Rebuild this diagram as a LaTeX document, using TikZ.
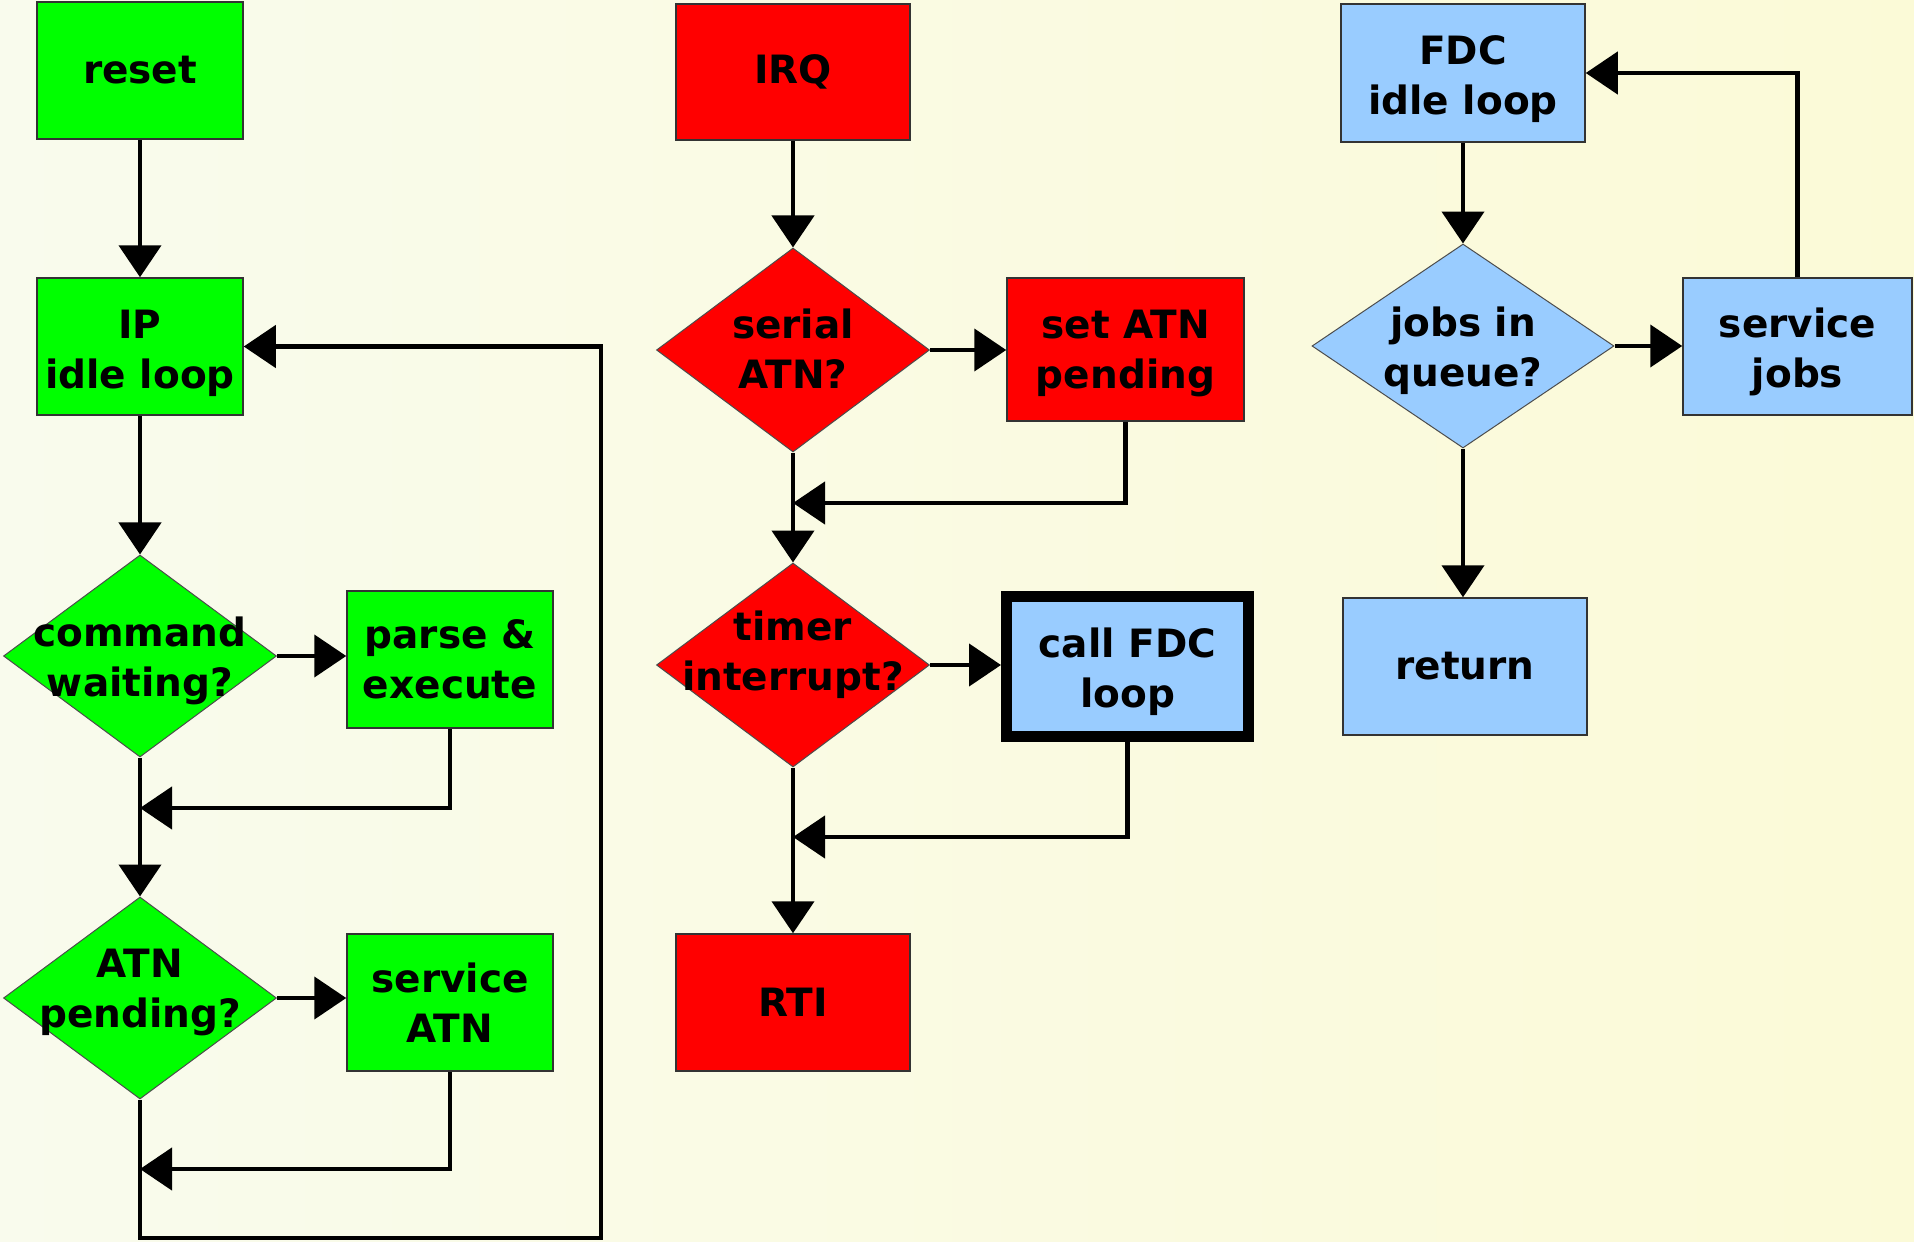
\documentclass[tikz,border=0pt]{standalone}
\usepackage{fontspec}
\setmainfont{DejaVu Sans}
\usetikzlibrary{shapes.geometric,arrows.meta}
\definecolor{bgL}{RGB}{249,251,237}
\definecolor{bgR}{RGB}{251,250,215}
\definecolor{grn}{RGB}{0,255,0}
\definecolor{rd}{RGB}{255,0,0}
\definecolor{blu}{RGB}{153,204,255}
\newcommand{\dtxt}[3][0pt]{\makebox[0pt]{\raisebox{#1}[\height][\depth]{\begin{tabular}{@{}c@{}}#2\\#3\end{tabular}}}}
\newcommand{\btxt}[3][0pt]{\raisebox{#1}[\height][\depth]{\begin{tabular}{@{}c@{}}#2\\#3\end{tabular}}}
\begin{document}
\begin{tikzpicture}[x=1pt,y=-1pt,
  every node/.style={font=\fontsize{39}{50}\selectfont\bfseries},
  gbox/.style={rectangle,draw=black!80,line width=1.5pt,minimum width=206pt,minimum height=137pt,inner sep=0pt,align=center},
  dec/.style={diamond,draw=black!70,line width=1pt,minimum width=273pt,minimum height=202pt,inner sep=0pt},
  flow/.style={line width=4.5pt,-{Triangle[width=42pt,length=32pt]}},
  conn/.style={line width=4.5pt}]
\useasboundingbox (0,0) rectangle (1914,1242);
\fill[left color=bgL,right color=bgR] (0,0) rectangle (1914,1242);

% left column
\node[gbox,fill=grn] (reset) at (140,70.5) {reset};
\node[gbox,fill=grn] (ip) at (140,346.5) {\btxt[-7pt]{IP}{idle loop}};
\node[dec,fill=grn] (cmd) at (140,656) {\dtxt[-5pt]{command}{waiting?}};
\node[gbox,fill=grn] (parse) at (450,659.5) {parse \&\\execute};
\node[dec,fill=grn] (atn) at (140,998) {\dtxt[6pt]{ATN}{pending?}};
\node[gbox,fill=grn] (svcatn) at (450,1002.5) {service\\ATN};
\coordinate (m1) at (140,808);
\coordinate (m2) at (140,1169);
\coordinate (loopA) at (140,1238);
\coordinate (loopB) at (601,1238);

% middle column
\node[gbox,fill=rd,minimum width=234pt,minimum height=136pt] (irq) at (793,72) {IRQ};
\node[dec,fill=rd,minimum height=204pt] (serial) at (793,350) {\dtxt[-3pt]{serial}{ATN?}};
\node[gbox,fill=rd,minimum width=237pt,minimum height=143pt] (setatn) at (1125.5,349.5) {\btxt[-4pt]{set ATN}{pending}};
\node[dec,fill=rd,minimum height=204pt] (timer) at (793,665) {\dtxt[10pt]{timer}{interrupt?}};
\node[gbox,fill=blu,draw=black,line width=11pt,minimum width=242pt,minimum height=140pt] (callfdc) at (1127.5,666.5) {\btxt[-6pt]{call FDC}{loop}};
\node[gbox,fill=rd,minimum width=234pt] (rti) at (793,1002.5) {RTI};
\coordinate (m3) at (793,503);
\coordinate (m4) at (793,837);

% right column
\node[gbox,fill=blu,minimum width=244pt,minimum height=138pt] (fdc) at (1463,73) {\btxt[-6pt]{FDC}{idle loop}};
\node[dec,fill=blu,minimum width=302pt,minimum height=204pt] (jobs) at (1463,346) {\dtxt[-5pt]{jobs in}{queue?}};
\node[gbox,fill=blu,minimum width=229pt] (svcjobs) at (1797.5,346.5) {\btxt[-6pt]{service}{jobs}};
\node[gbox,fill=blu,minimum width=244pt] (ret) at (1465,666.5) {return};

% left connectors
\draw[flow] (reset) -- (ip);
\draw[flow] (ip) -- (cmd);
\draw[flow] (cmd.east) -- (cmd.east -| parse.west);
\draw[flow] (parse.south) |- (m1);
\draw[flow] (cmd.south) -- (atn.north);
\draw[flow] (atn.east) -- (atn.east -| svcatn.west);
\draw[flow] (svcatn.south) |- (m2);
\draw[flow] (atn.south) -- (loopA) -- (loopB) |- (ip.east);

% middle connectors
\draw[flow] (irq) -- (serial);
\draw[flow] (serial.east) -- (serial.east -| setatn.west);
\draw[flow] (setatn.south) |- (m3);
\draw[flow] (serial.south) -- (timer.north);
\draw[flow] (timer.east) -- (timer.east -| callfdc.west);
\draw[flow] (callfdc.south) |- (m4);
\draw[flow] (timer.south) -- (rti.north);

% right connectors
\draw[flow] (fdc.south) -- (jobs.north);
\draw[flow] (jobs.east) -- (jobs.east -| svcjobs.west);
\draw[flow] (svcjobs.north) |- (fdc.east);
\draw[flow] (jobs.south) -- (jobs.south |- ret.north);
\end{tikzpicture}
\end{document}
